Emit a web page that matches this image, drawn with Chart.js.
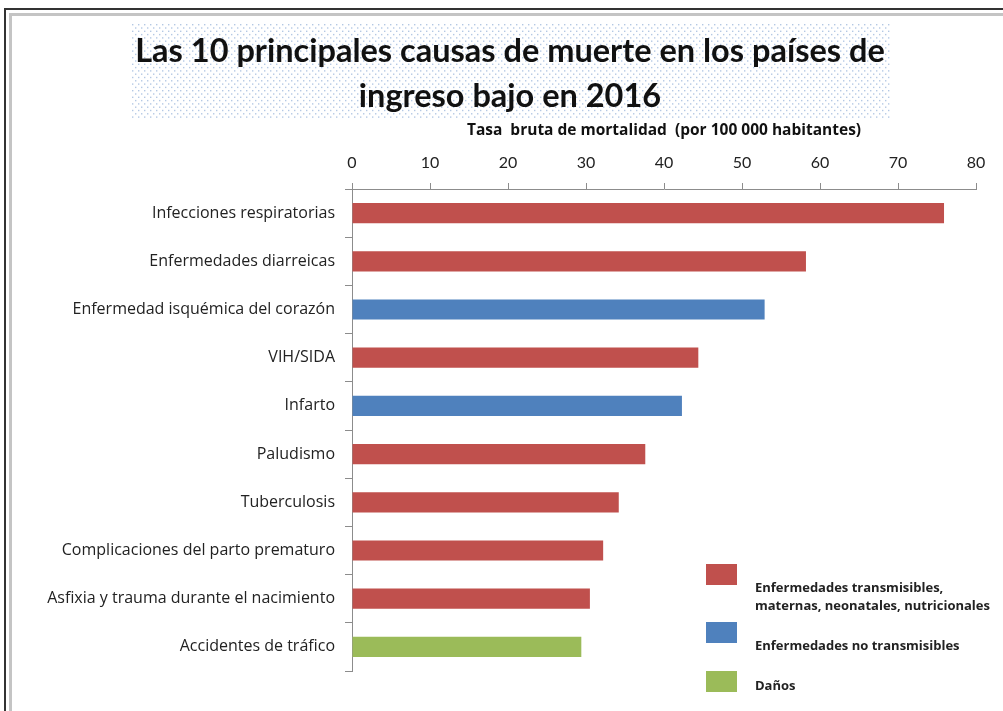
<!DOCTYPE html>
<html>
<head>
<meta charset="utf-8">
<script src="https://cdn.jsdelivr.net/npm/chart.js@4/dist/chart.umd.min.js"></script>
<style>
    body { margin: 0; background: #fff; overflow: hidden; }
    .marco1 { position: absolute; left: 4px; top: 8px; width: 1100px; height: 800px; border-left: 2px solid #333; border-top: 2px solid #333; }
    .marco2 { position: absolute; left: 9px; top: 13px; width: 1100px; height: 800px; border-left: 3px solid #c4c4c4; border-top: 3px solid #c4c4c4; }
    .contenedor { position: absolute; left: 0; top: 0; width: 1003px; height: 711px; }
</style>
</head>
<body>
<div class="marco1"></div>
<div class="marco2"></div>
<div class="contenedor"><canvas id="chartCausas"></canvas></div>
<script>
// datos
const tituloLineas = ['Las 10 principales causas de muerte en los países de', 'ingreso bajo en 2016'];
const tituloEje = 'Tasa  bruta de mortalidad  (por 100 000 habitantes)';
const causas = ['Infecciones respiratorias', 'Enfermedades diarreicas', 'Enfermedad isquémica del corazón', 'VIH/SIDA', 'Infarto', 'Paludismo', 'Tuberculosis', 'Complicaciones del parto prematuro', 'Asfixia y trauma durante el nacimiento', 'Accidentes de tráfico'];
const tasas = [75.9, 58.2, 52.9, 44.4, 42.3, 37.6, 34.2, 32.2, 30.5, 29.4];
const grupos = [0, 0, 1, 0, 1, 0, 0, 0, 0, 2];
const gruposNombres = [['Enfermedades transmisibles,', 'maternas, neonatales, nutricionales'], ['Enfermedades no transmisibles'], ['Daños']];
const gruposColores = ['#C0504D', '#4F81BD', '#9BBB59'];
const ticksX = [0, 10, 20, 30, 40, 50, 60, 70, 80];

const fondoTitulo = {
    id: 'fondoTitulo',
    beforeDraw: function (chart) {
        var ctx = chart.ctx;
        ctx.save();
        ctx.fillStyle = '#b4c8e4';
        var fila = 0;
        for (var y = 24; y < 118; y += 3.3) {
            var desp = (fila % 2) * 3;
            for (var x = 132 + desp; x < 890; x += 6) {
                ctx.fillRect(x, y, 1.4, 1.4);
            }
            fila++;
        }
        ctx.fillStyle = '#111';
        ctx.font = 'bold 32.5px Lato';
        ctx.textAlign = 'center';
        ctx.textBaseline = 'middle';
        ctx.fillText(tituloLineas[0], 510, 52);
        ctx.fillText(tituloLineas[1], 510, 97);
        ctx.restore();
    }
};

const leyenda = {
    id: 'leyenda',
    afterDraw: function (chart) {
        var ctx = chart.ctx;
        var cajas = [564, 622, 671];
        var textos = [[588, 606], [646], [686]];
        ctx.save();
        ctx.font = 'bold 13px "Open Sans"';
        ctx.textAlign = 'left';
        ctx.textBaseline = 'middle';
        for (var i = 0; i < gruposNombres.length; i++) {
            ctx.fillStyle = gruposColores[i];
            ctx.fillRect(706, cajas[i], 31, 21);
            ctx.fillStyle = '#222';
            for (var j = 0; j < gruposNombres[i].length; j++) {
                ctx.fillText(gruposNombres[i][j], 755, textos[i][j]);
            }
        }
        ctx.restore();
    }
};

const data = {
    labels: causas,
    datasets: [{
        data: tasas,
        backgroundColor: grupos.map(function (g) { return gruposColores[g]; }),
        barPercentage: 0.42,
        categoryPercentage: 1
    }]
};

const config = {
    type: 'bar',
    data: data,
    options: {
        indexAxis: 'y',
        responsive: true,
        maintainAspectRatio: false,
        animation: false,
        layout: {
            padding: { top: 120, right: 27, bottom: 40, left: 0 }
        },
        plugins: {
            legend: { display: false },
            title: { display: false },
            tooltip: { enabled: false }
        },
        scales: {
            x: {
                position: 'top',
                min: 0,
                max: 80,
                afterBuildTicks: function (scale) {
                    scale.ticks = ticksX.map(function (v) { return { value: v }; });
                },
                afterFit: function (scale) { scale.height = 69; },
                ticks: {
                    color: '#222',
                    padding: 11,
                    maxRotation: 0,
                    font: { family: 'Lato', size: 16 }
                },
                grid: {
                    drawOnChartArea: false,
                    tickLength: 6,
                    color: '#8c8c8c'
                },
                border: { color: '#8c8c8c' },
                title: {
                    display: true,
                    text: tituloEje,
                    color: '#111',
                    font: { family: 'Open Sans', size: 15.5, weight: 'bold' },
                    padding: { top: 1, bottom: 0 }
                }
            },
            y: {
                afterFit: function (scale) { scale.width = 352; },
                ticks: {
                    color: '#222',
                    padding: 10,
                    font: { family: 'Open Sans', size: 16 }
                },
                grid: {
                    offset: true,
                    drawOnChartArea: false,
                    tickLength: 7,
                    color: '#8c8c8c'
                },
                border: { color: '#8c8c8c' }
            }
        }
    },
    plugins: [fondoTitulo, leyenda]
};

const chartCausas = new Chart(document.getElementById('chartCausas'), config);
</script>
</body>
</html>
